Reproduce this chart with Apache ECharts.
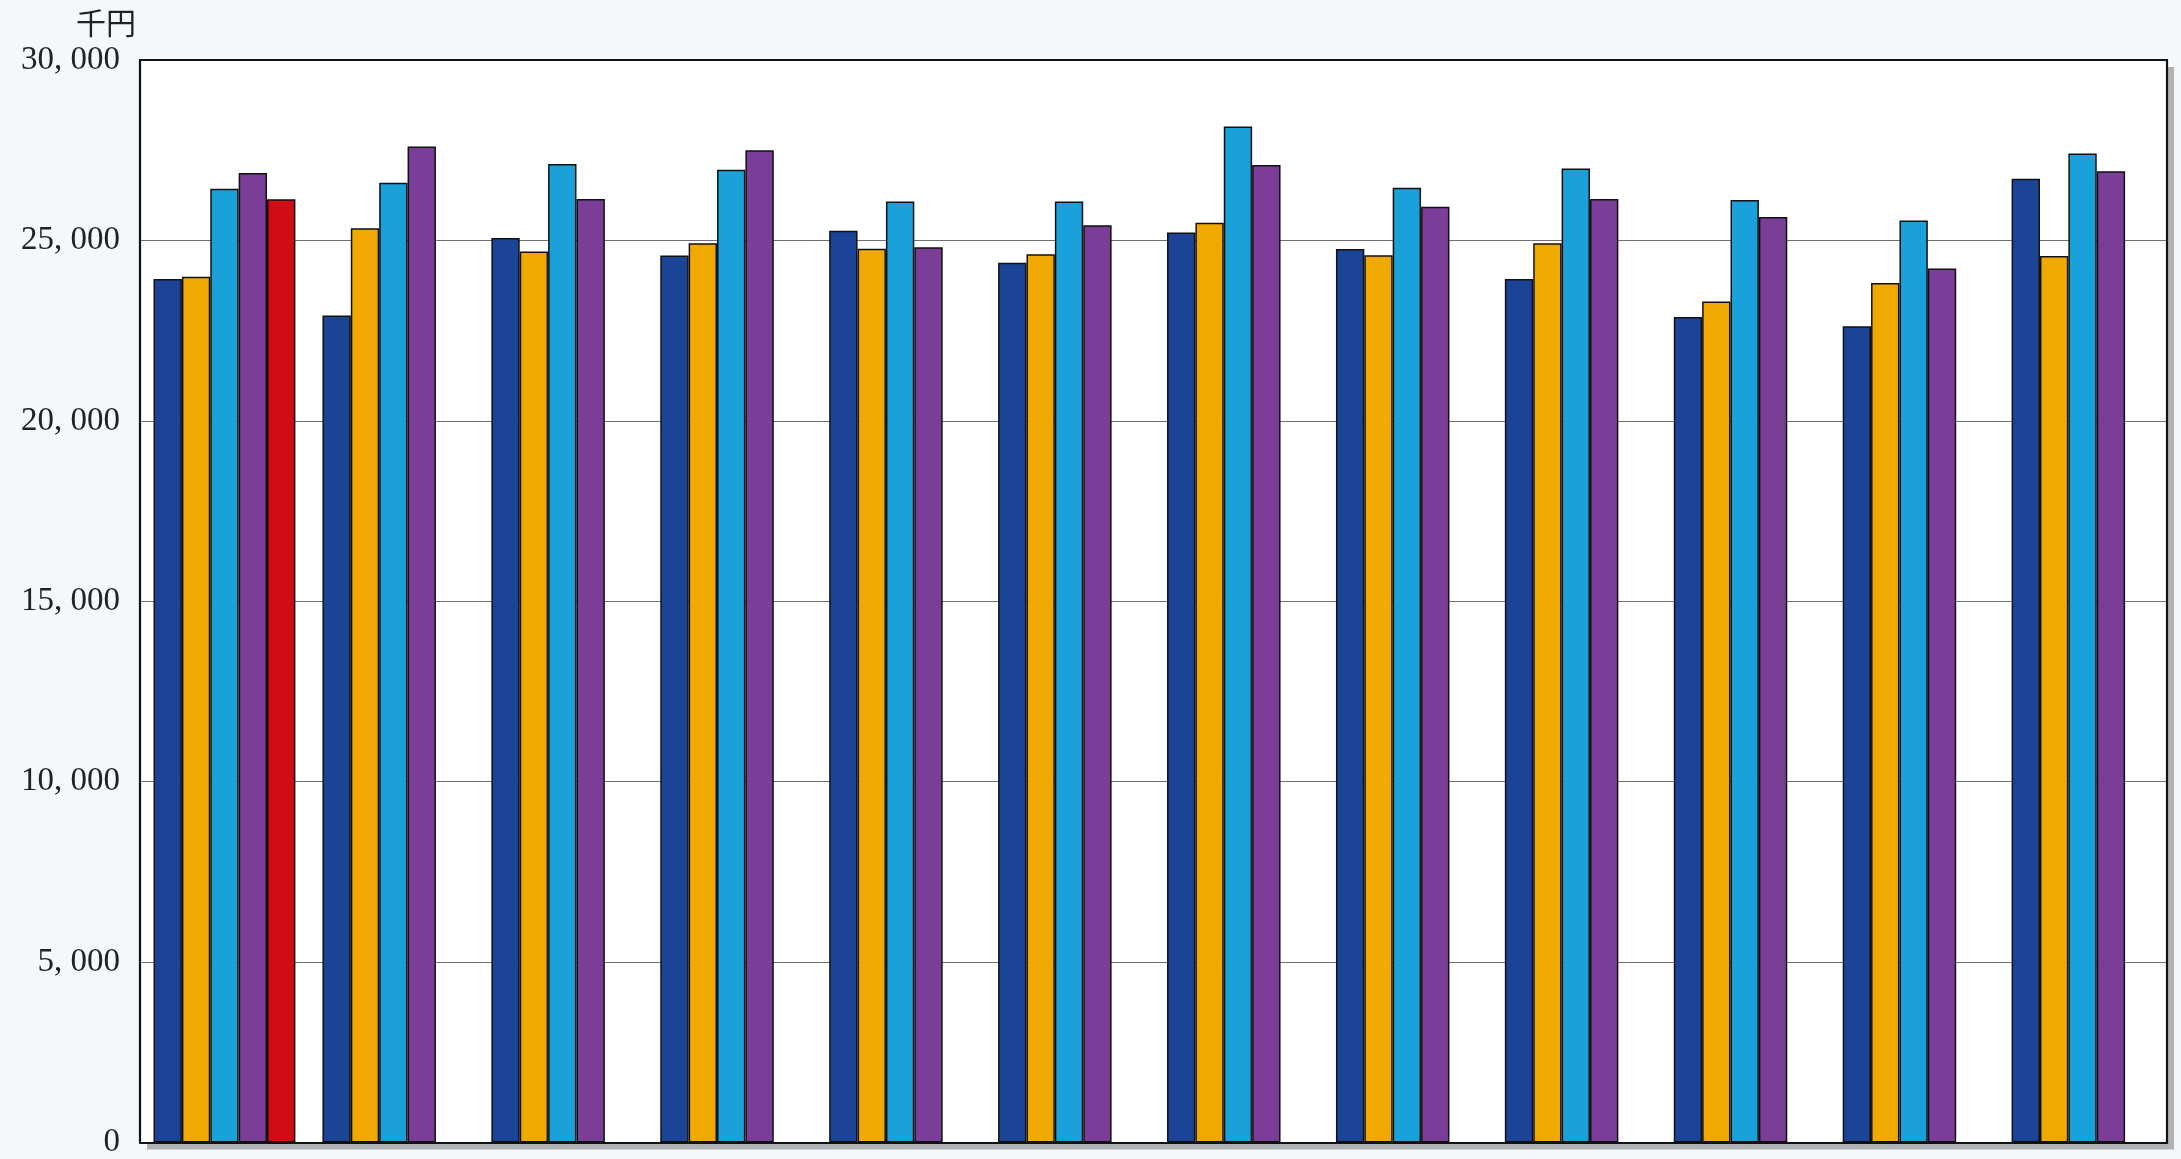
<!DOCTYPE html>
<html>
<head>
<meta charset="utf-8">
<script src="https://cdn.jsdelivr.net/npm/echarts@6/dist/echarts.min.js"></script>
<style>
html,body{margin:0;padding:0;background:#f5f8fa;}
#c{width:2181px;height:1159px;}
</style>
</head>
<body>
<div id="c"></div>
<script>
const categories = ['1','2','3','4','5','6','7','8','9','10','11','12'];
const seriesA = [23930, 22920, 25070, 24580, 25270, 24380, 25220, 24760, 23930, 22880, 22620, 26710];
const seriesB = [23990, 25340, 24690, 24920, 24770, 24620, 25490, 24590, 24920, 23310, 23820, 24570];
const seriesC = [26430, 26600, 27120, 26960, 26080, 26080, 28160, 26460, 26990, 26120, 25550, 27410];
const seriesD = [26870, 27600, 26150, 27500, 24810, 25420, 27090, 25930, 26150, 25650, 24220, 26920];
const seriesE = [26140, null, null, null, null, null, null, null, null, null, null, null];
const yTickLabels = {0:'0',5000:'5, 000',10000:'10, 000',15000:'15, 000',20000:'20, 000',25000:'25, 000',30000:'30, 000'};
const unitLabel = '千円';

const colors = ['#1c4496','#f0a900','#1ba1da','#7b3e98','#d20c14'];
const chart = echarts.init(document.getElementById('c'));
function bar(name, data, color){
  return {name, type:'bar', data, barGap:0, barCategoryGap:'16%', xAxisIndex:0, yAxisIndex:0,
    itemStyle:{color, borderColor:'#111', borderWidth:1.5}};
}
const frameLine = {show:true, onZero:false, lineStyle:{color:'#111', width:2.2}};
chart.setOption({
  backgroundColor:'#f5f8fa',
  animation:false,
  grid:{left:140, right:14, top:60, bottom:12, show:true, backgroundColor:'#ffffff',
        borderWidth:0,
        shadowColor:'rgba(120,120,120,0.55)', shadowOffsetX:7, shadowOffsetY:7, shadowBlur:0},
  xAxis:[
    {type:'category', data:categories, position:'bottom',
     axisLine:frameLine, axisTick:{show:false}, axisLabel:{show:false}},
    {type:'category', data:categories, position:'top',
     axisLine:frameLine, axisTick:{show:false}, axisLabel:{show:false}}
  ],
  yAxis:[
    {type:'value', min:0, max:30000, interval:5000, position:'left',
     name:unitLabel, nameLocation:'end', nameGap:22,
     nameTextStyle:{fontFamily:'Noto Sans CJK JP', fontSize:30, color:'#222', align:'right', padding:[0,4,0,0]},
     axisLine:frameLine,
     axisTick:{show:false},
     axisLabel:{fontFamily:'Liberation Serif', fontSize:33, color:'#222', margin:20,
       formatter:v=>yTickLabels[v]},
     splitLine:{show:true, lineStyle:{color:'#707070', width:1.2}}},
    {type:'value', min:0, max:30000, interval:5000, position:'right',
     axisLine:frameLine, axisTick:{show:false}, axisLabel:{show:false}, splitLine:{show:false}}
  ],
  series:[
    bar('A', seriesA, colors[0]),
    bar('B', seriesB, colors[1]),
    bar('C', seriesC, colors[2]),
    bar('D', seriesD, colors[3]),
    bar('E', seriesE, colors[4])
  ]
});
</script>
</body>
</html>
